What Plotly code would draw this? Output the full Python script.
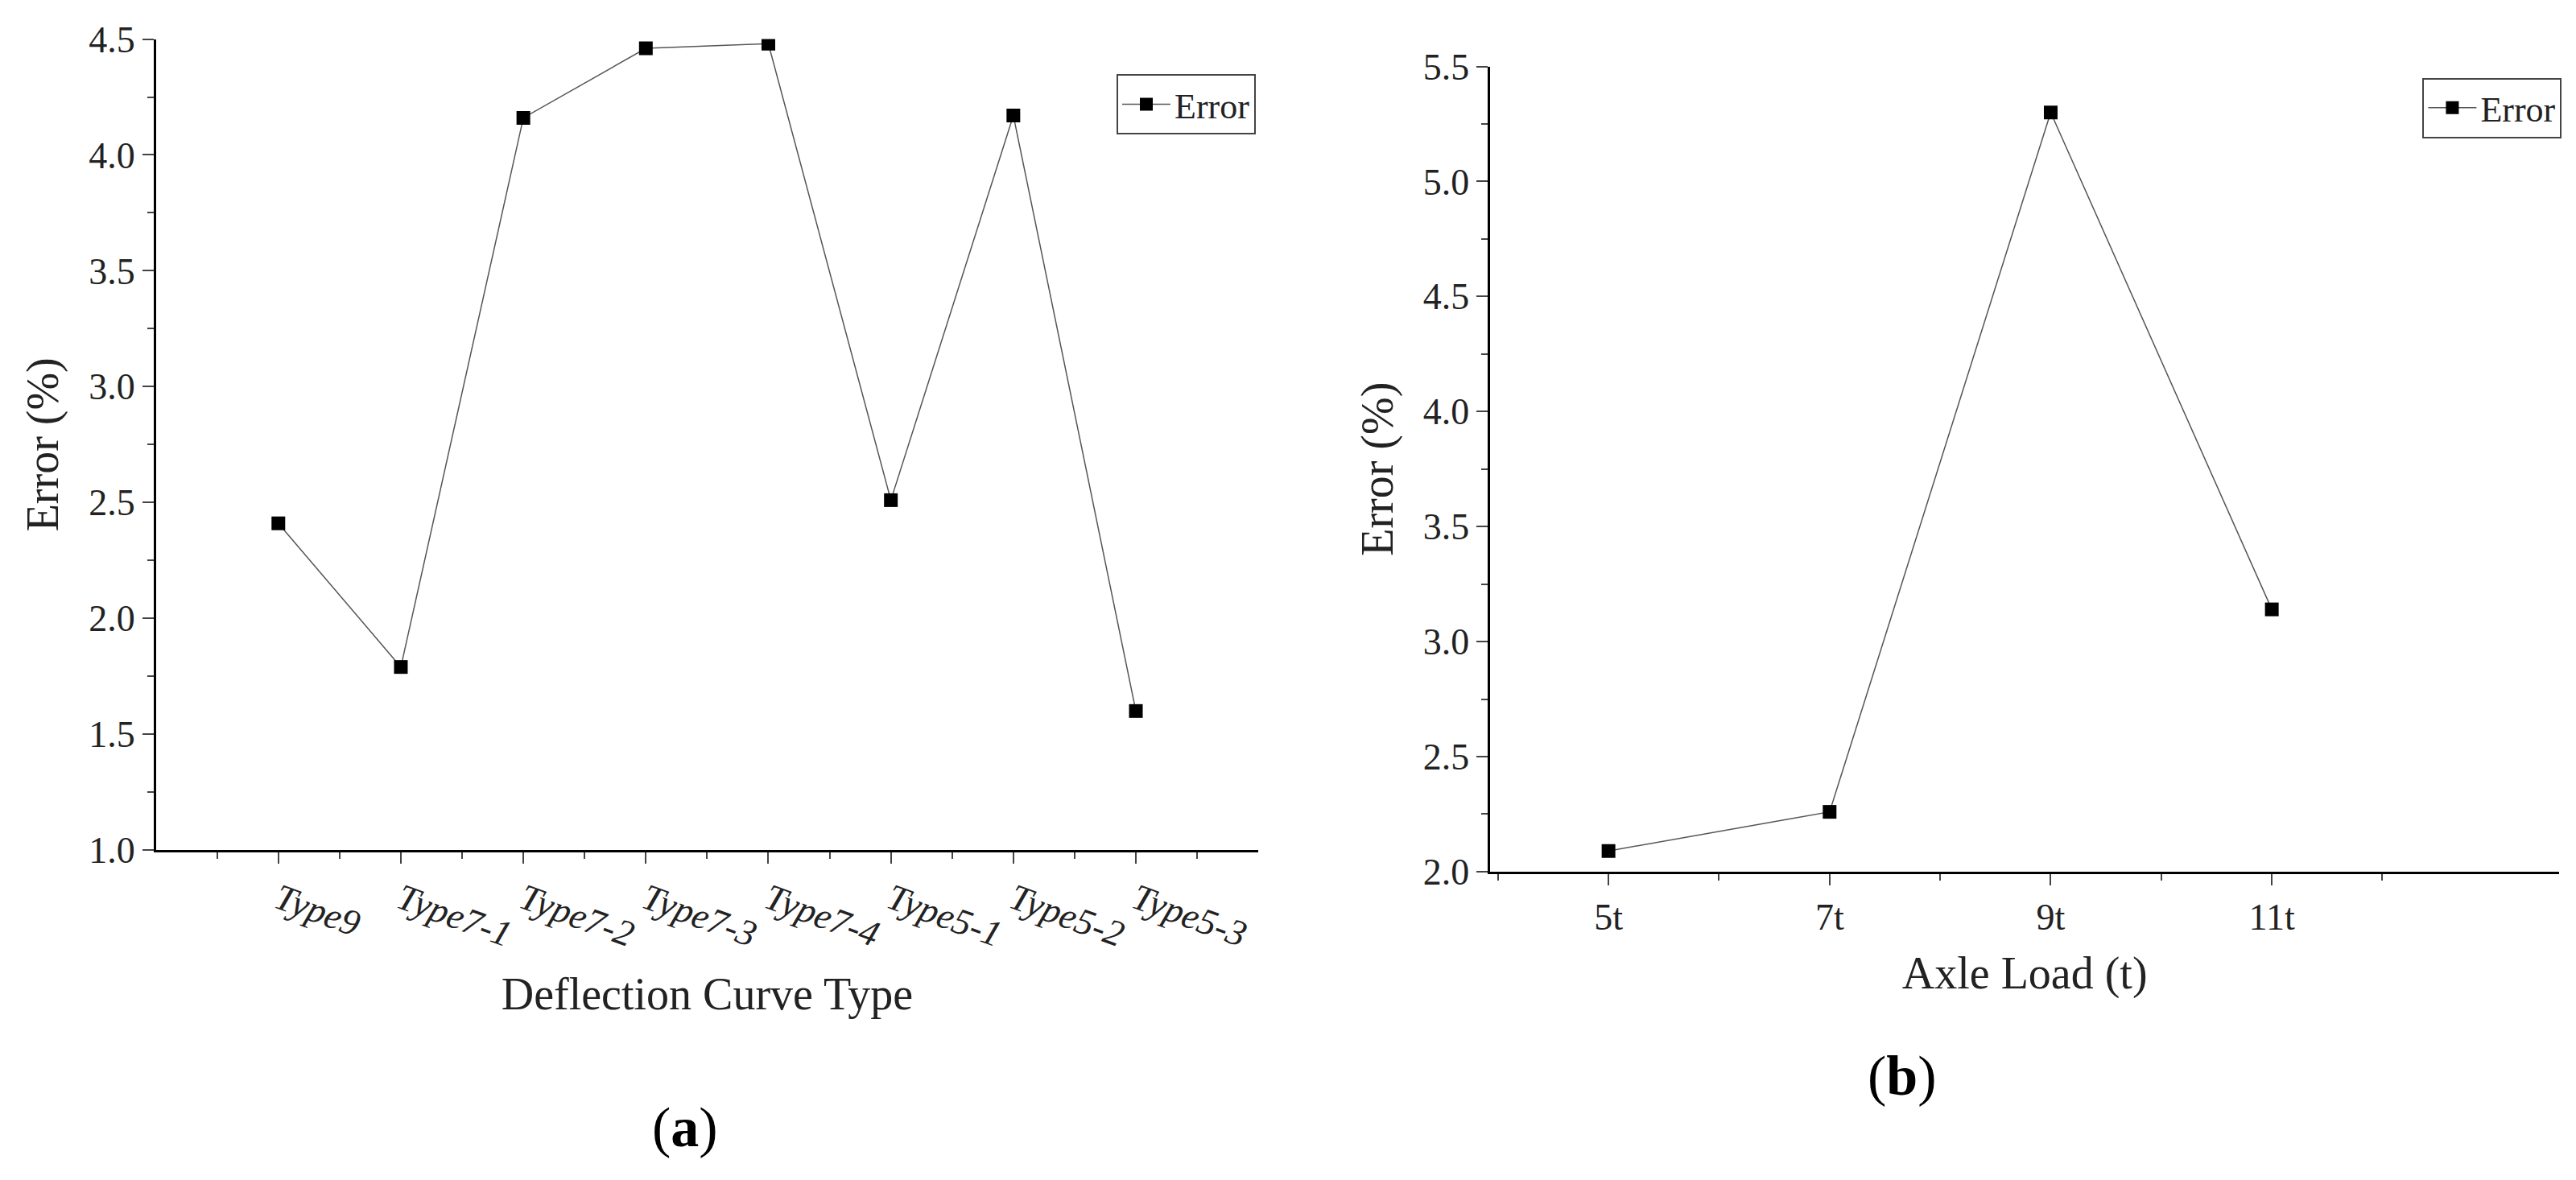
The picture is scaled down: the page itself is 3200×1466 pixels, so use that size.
import plotly.graph_objects as go

types = ["Type9", "Type7-1", "Type7-2", "Type7-3", "Type7-4", "Type5-1", "Type5-2", "Type5-3"]
err_a = [2.41, 1.79, 4.16, 4.46, 4.48, 2.51, 4.17, 1.60]
loads = [5, 7, 9, 11]
load_labels = ["5t", "7t", "9t", "11t"]
err_b = [2.09, 2.26, 5.30, 3.14]

F = "Liberation Serif"
fig = go.Figure()
mk = dict(symbol="square", size=17, color="black")
ln = dict(color="#555555", width=1.5)
fig.add_trace(go.Scatter(x=list(range(len(types))), y=err_a, mode="lines+markers",
                         marker=mk, line=ln, name="Error", xaxis="x", yaxis="y", legend="legend"))
fig.add_trace(go.Scatter(x=loads, y=err_b, mode="lines+markers",
                         marker=mk, line=ln, name="Error", xaxis="x2", yaxis="y2", legend="legend2"))

ax = dict(showline=True, linecolor="black", linewidth=2.5, ticks="outside", ticklen=14,
          tickwidth=2, showgrid=False, zeroline=False, tickfont=dict(family=F, size=46, color="#222"),
          mirror=False)
minor = dict(ticks="outside", ticklen=8, tickwidth=2, showgrid=False)
tf = dict(family=F, size=56, color="#222")
leg = dict(bgcolor="white", bordercolor="#444", borderwidth=2, font=dict(family=F, size=44, color="#222"),
           xanchor="right", yanchor="top", itemwidth=60)

fig.update_layout(
    width=3200, height=1466, plot_bgcolor="white", paper_bgcolor="white",
    margin=dict(l=0, r=0, t=0, b=0), showlegend=True,
    legend=dict(leg, x=0.485, y=0.958),
    legend2=dict(leg, x=0.992, y=0.955),
    xaxis=dict(ax, domain=[0.058, 0.486], range=[-1, 8], tickmode="array",
               tickvals=list(range(len(types))), ticktext=["<i>%s</i>" % t for t in types],
               tickangle=20, minor=dict(minor, tickvals=[x + 0.5 for x in range(-1, 8)]),
               title=dict(text="Deflection Curve Type", font=tf, standoff=30),
               anchor="y"),
    yaxis=dict(ax, domain=[0.277, 0.989], range=[1.0, 4.5], dtick=0.5, tickformat=".1f",
               minor=dict(minor, dtick=0.25),
               title=dict(text="Error (%)", font=tf, standoff=20),
               anchor="x"),
    xaxis2=dict(ax, domain=[0.576, 0.991], range=[3.93, 13.6], tickmode="array",
                tickvals=loads, ticktext=load_labels, minor=dict(minor, tickvals=[4, 6, 8, 10, 12]),
                title=dict(text="Axle Load (t)", font=tf, standoff=25),
                anchor="y2"),
    yaxis2=dict(ax, domain=[0.258, 0.965], range=[2.0, 5.5], dtick=0.5, tickformat=".1f",
                minor=dict(minor, dtick=0.25),
                title=dict(text="Error (%)", font=tf, standoff=20),
                anchor="x2"),
)

fig.add_annotation(xref="paper", yref="paper", x=0.25, y=0.005, yanchor="bottom", text="(<b>a</b>)",
                   showarrow=False, font=dict(family=F, size=70, color="black"))
fig.add_annotation(xref="paper", yref="paper", x=0.75, y=0.05, yanchor="bottom", text="(<b>b</b>)",
                   showarrow=False, font=dict(family=F, size=70, color="black"))

fig.write_html("out.html")
